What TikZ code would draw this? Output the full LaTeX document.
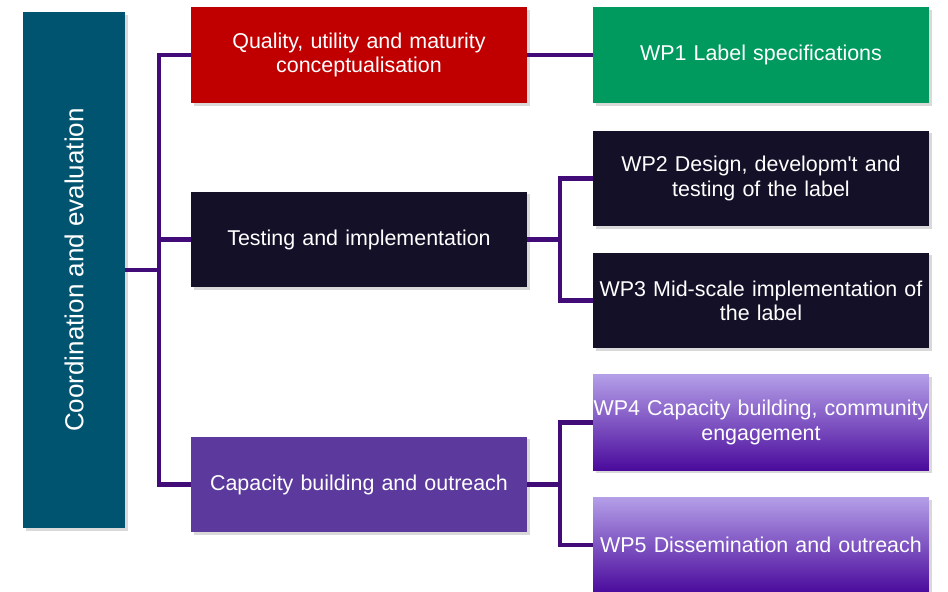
\documentclass[tikz,border=0pt]{standalone}
\usepackage{fontspec}
\setmainfont{Liberation Sans}
\usetikzlibrary{shadows}
\definecolor{coordteal}{HTML}{005470}
\definecolor{qualred}{HTML}{C00000}
\definecolor{wpgreen}{HTML}{009A5E}
\definecolor{testdark}{HTML}{141027}
\definecolor{capviolet}{HTML}{5C399C}
\definecolor{lavtop}{HTML}{B49FE8}
\definecolor{lavbottom}{HTML}{4A0A9C}
\definecolor{linkpurple}{HTML}{410C78}
\tikzset{
  box/.style={minimum width=6.72cm, minimum height=1.92cm, text width=6.72cm,
    inner xsep=0pt, align=center, text=white,
    font=\fontsize{12.2}{13.8}\selectfont,
    drop shadow={opacity=0.3, shadow xshift=1.5pt, shadow yshift=-1.5pt}},
  link/.style={line width=2.3pt, color=linkpurple}
}

\begin{document}
\begin{tikzpicture}[x=0.02cm, y=-0.02cm]
    \useasboundingbox (0,0) rectangle (948,592);

    \node[fill=coordteal, text=white, minimum width=2.04cm, minimum height=10.32cm,
          font=\fontsize{14.8}{17}\selectfont,
          drop shadow={opacity=0.3, shadow xshift=1.5pt, shadow yshift=-1.5pt}]
        (coord) at (74,270) {\rotatebox{90}{Coordination and evaluation}};

    \node[box, fill=qualred] (quality) at (359,55) {Quality, utility and maturity\\conceptualisation};
    \node[box, fill=testdark] (testing) at (359,239.5) {Testing and implementation};
    \node[box, fill=capviolet] (capacity) at (359,484.5) {Capacity building and outreach};

    \node[box, fill=wpgreen] (wp1) at (761,55) {WP1 Label specifications};
    \node[box, fill=testdark] (wp2) at (761,178.5) {WP2 Design, developm\textquotesingle t and\\testing of the label};
    \node[box, fill=testdark] (wp3) at (761,300.5) {WP3 Mid-scale implementation of\\the label};
    \node[box, top color=lavtop, bottom color=lavbottom] (wp4) at (761,422.5) {WP4 Capacity building, community\\engagement};
    \node[box, top color=lavtop, bottom color=lavbottom] (wp5) at (761,545) {WP5 Dissemination and outreach};

    \coordinate (trunk) at (159,270);
    \coordinate (tfork) at (560,239.5);
    \coordinate (cfork) at (560,484.5);

    \draw[link] (coord.east) -- (trunk);
    \draw[link] (quality.west) -| (trunk) |- (capacity.west);
    \draw[link] (trunk) |- (testing.west);

    \draw[link] (quality.east) -- (wp1.west);

    \draw[link] (testing.east) -- (tfork);
    \draw[link] (wp2.west) -| (tfork) |- (wp3.west);

    \draw[link] (capacity.east) -- (cfork);
    \draw[link] (wp4.west) -| (cfork) |- (wp5.west);
\end{tikzpicture}
\end{document}
